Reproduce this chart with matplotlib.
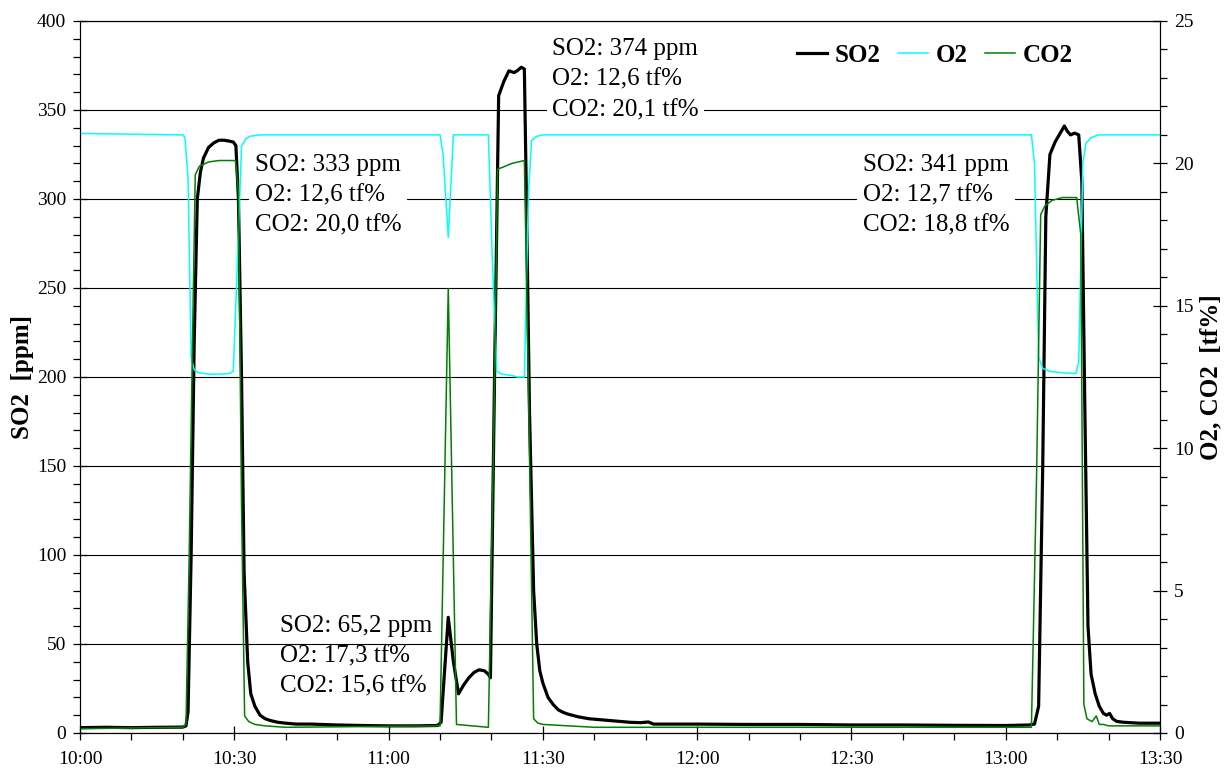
import matplotlib
matplotlib.use('Agg')
import matplotlib.pyplot as plt
from matplotlib.ticker import MultipleLocator, FuncFormatter

plt.rcParams['font.family'] = ['Liberation Serif', 'DejaVu Serif']

# minutes after 10:00
so2_t = [0, 5, 10, 15, 20, 20.6, 21.0, 21.6, 22.2, 22.8, 23.4, 24.0, 25.0, 26.0, 27.0, 28.0,
         29.0, 29.8, 30.3, 30.8, 31.4, 31.9, 32.6, 33.2, 34.0, 35.0, 36.0, 37.0, 38.5, 40.0,
         42.0, 45.0, 50.0, 55.0, 60.0, 65.0, 69.5, 70.2, 71.6, 72.6, 73.6, 74.6, 75.6, 76.6,
         77.6, 78.6, 79.4, 79.8, 80.6, 81.4, 82.4, 83.4, 84.4, 85.0, 85.8, 86.4, 86.8, 87.4,
         88.2, 88.8, 89.4, 90.0, 91.0, 92.0, 93.0, 94.0, 95.0, 97.0, 99.0, 101.0, 103.0, 105.0,
         107.0, 109.0, 110.5, 111.5, 115.0, 120.0, 130.0, 140.0, 150.0, 160.0, 170.0, 180.0,
         184.5, 185.6, 186.4, 187.2, 187.8, 188.6, 189.6, 190.4, 191.4, 192.0, 192.6, 193.4,
         194.2, 194.8, 195.4, 196.0, 196.6, 197.4, 198.2, 199.0, 199.6, 200.2, 200.8, 201.6,
         203.0, 206.0, 210.0]
so2_v = [3.0, 3.2, 3.0, 3.2, 3.3, 4.0, 12, 100, 220, 300, 315, 323, 329, 331.5, 333, 333,
         332.5, 332, 330, 300, 200, 90, 40, 22, 15, 10, 8, 7, 6, 5.5,
         5.0, 5.0, 4.5, 4.2, 4.0, 4.0, 4.2, 6, 65, 40, 22, 27, 31, 34,
         35.5, 35, 33, 31, 200, 358, 366, 372, 371, 372, 374, 373, 300, 180,
         80, 50, 35, 28, 20, 16, 13, 11.5, 10.5, 9, 8, 7.5, 7, 6.5,
         6, 5.8, 6.2, 5, 5, 5, 4.8, 4.8, 4.5, 4.5, 4.3, 4.2,
         4.5, 5, 15, 150, 290, 325, 332, 336, 341, 338, 336, 337,
         336, 310, 180, 60, 33, 22, 15, 11, 10, 11, 8, 6.5,
         6, 5.5, 5.5]

o2_t = [0, 20.0, 20.4, 21.0, 21.6, 22.2, 23.0, 25.0, 27.0, 29.0, 29.8, 30.6, 31.4, 32.2,
        33.0, 35.0, 50.0, 70.0, 70.6, 71.6, 72.6, 79.4, 80.2, 81.0, 82.0, 84.0, 85.0, 86.4,
        87.2, 87.8, 88.8, 90.0, 120.0, 150.0, 185.0, 185.6, 186.4, 187.2, 188.6, 191.0,
        193.6, 194.2, 195.0, 195.6, 196.6, 198.0, 210.0]
o2_v = [21.05, 21.0, 20.9, 19.5, 13.2, 12.75, 12.65, 12.6, 12.6, 12.62, 12.7, 16.5, 20.6, 20.85,
        20.95, 21.0, 21.0, 21.0, 20.3, 17.4, 21.0, 21.0, 16.5, 12.7, 12.6, 12.55, 12.5, 12.5,
        19.0, 20.8, 20.95, 21.0, 21.0, 21.0, 21.0, 20.0, 13.2, 12.8, 12.7, 12.65,
        12.62, 13.0, 20.0, 20.7, 20.9, 21.0, 21.0]

co2_t = [0, 20.0, 20.6, 21.2, 21.8, 22.4, 23.2, 25.0, 27.0, 29.0, 30.2, 30.8, 31.4, 32.0,
         32.8, 34.0, 36.0, 40.0, 70.0, 71.6, 73.2, 79.4, 80.4, 81.2, 82.0, 84.0, 86.4, 87.2,
         88.2, 89.0, 90.0, 95.0, 100.0, 150.0, 185.0, 186.0, 186.8, 187.6, 189.0, 191.0,
         193.0, 193.8, 194.6, 195.2, 195.8, 196.8, 197.6, 198.2, 199.0, 200.0, 210.0]
co2_v = [0.15, 0.2, 0.3, 6, 13, 19.6, 19.9, 20.05, 20.1, 20.1, 20.1, 19.0, 8, 0.6,
         0.4, 0.3, 0.25, 0.2, 0.25, 15.6, 0.3, 0.2, 10, 19.8, 19.85, 20.0, 20.1, 12,
         0.5, 0.35, 0.3, 0.25, 0.2, 0.2, 0.2, 9, 18.2, 18.5, 18.7, 18.8,
         18.8, 18.8, 17.5, 1.0, 0.5, 0.4, 0.6, 0.3, 0.3, 0.25, 0.25]

notes = [
    (34.0, 302, 'SO2: 333 ppm\nO2: 12,6 tf%\nCO2: 20,0 tf%', True),
    (91.8, 367, 'SO2: 374 ppm\nO2: 12,6 tf%\nCO2: 20,1 tf%', True),
    (152.2, 302, 'SO2: 341 ppm\nO2: 12,7 tf%\nCO2: 18,8 tf%', True),
    (38.9, 43, 'SO2: 65,2 ppm\nO2: 17,3 tf%\nCO2: 15,6 tf%', False),
]


def hhmm(x, pos):
    m = int(round(x))
    return '%d:%02d' % (10 + m // 60, m % 60)


fig = plt.figure(figsize=(12.24, 7.71), dpi=100)
ax = fig.add_axes([0.0654, 0.0493, 0.8823, 0.9235])
ax2 = ax.twinx()

l1, = ax.plot(so2_t, so2_v, color='black', lw=2.3, label='SO2')
l2, = ax2.plot(o2_t, o2_v, color='#00FFFF', lw=1.1, label='O2')
l3, = ax2.plot(co2_t, co2_v, color='#008000', lw=1.1, label='CO2')

ax.set_xlim(0, 210)
ax.set_ylim(0, 400)
ax2.set_ylim(0, 25)

ax.xaxis.set_major_locator(MultipleLocator(30))
ax.xaxis.set_minor_locator(MultipleLocator(10))
ax.xaxis.set_major_formatter(FuncFormatter(hhmm))
ax.yaxis.set_major_locator(MultipleLocator(50))
ax.yaxis.set_minor_locator(MultipleLocator(10))
ax2.yaxis.set_major_locator(MultipleLocator(5))
ax2.yaxis.set_minor_locator(MultipleLocator(1))

ax.yaxis.grid(True, color='black', lw=0.8)
ax.set_axisbelow(True)

for a in (ax, ax2):
    a.tick_params(which='major', direction='inout', length=10, width=0.9, labelsize=14)
    a.tick_params(which='minor', direction='out', length=5, width=0.9)
ax.tick_params(axis='x', pad=8)
ax.tick_params(axis='y', pad=5)
ax2.tick_params(axis='y', pad=5)

ax.set_ylabel('SO2  [ppm]', fontsize=18, fontweight='bold', labelpad=2)
ax2.set_ylabel('O2, CO2  [tf%]', fontsize=18, fontweight='bold', labelpad=4)

for x, y, s, boxed in notes:
    kw = {}
    if boxed:
        kw['bbox'] = dict(facecolor='white', edgecolor='none', pad=4)
    ax2.text(x, y * 25 / 400, s, fontsize=18, ha='left', va='center', linespacing=1.5,
             zorder=5, **kw)

ax2.legend(handles=[l1, l2, l3], loc='center right', bbox_to_anchor=(0.94, 0.952),
           ncol=3, frameon=False, handlelength=1.2, columnspacing=0.7, handletextpad=0.3,
           prop={'weight': 'bold', 'size': 18})

fig.savefig('out.png', dpi=100)
